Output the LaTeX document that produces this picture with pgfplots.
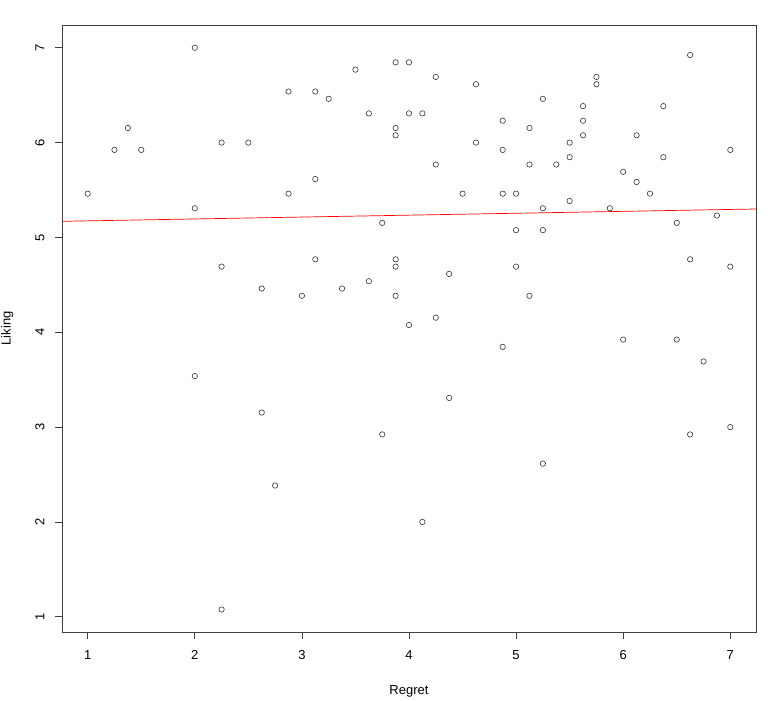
\documentclass[border=0pt]{standalone}
\usepackage{pgfplots}
\pgfplotsset{compat=1.18}
\usepackage{fontspec}
\setmainfont{Liberation Sans}
\usetikzlibrary{calc}
\begin{document}
\begin{tikzpicture}
\begin{axis}[
  scale only axis,
  width=694pt, height=607pt,
  xmin=0.76, xmax=7.24, ymin=0.84, ymax=7.24,
  xtick={1,2,3,4,5,6,7}, ytick={1,2,3,4,5,6,7},
  tick pos=left, tick align=outside,
  major tick length=7pt,
  axis line style={black!75, line width=0.8pt},
  every tick/.style={black!75, line width=0.8pt},
  ticklabel style={font=\fontsize{13}{15}\selectfont},
  /pgf/number format/assume math mode=true,
  xticklabel style={yshift=-8pt},
  yticklabel style={rotate=90, anchor=south, yshift=7pt},
  xlabel={Regret}, ylabel={Liking},
  label style={font=\fontsize{13}{15}\selectfont},
  xlabel style={yshift=-19pt},
  ylabel style={yshift=15pt},
]
\addplot[only marks, mark=o, mark size=2.7pt, black!80, line width=0.6pt] table {
x y
1 5.4615
1.25 5.9231
1.375 6.1538
1.5 5.9231
2 7
2 5.3077
2 3.5385
2.25 6
2.25 4.6923
2.25 1.0769
2.5 6
2.625 4.4615
2.625 3.1538
2.75 2.3846
2.875 6.5385
2.875 5.4615
3 4.3846
3.125 6.5385
3.125 5.6154
3.125 4.7692
3.25 6.4615
3.375 4.4615
3.5 6.7692
3.625 6.3077
3.625 4.5385
3.75 5.1538
3.75 2.9231
3.875 6.8462
3.875 6.1538
3.875 6.0769
3.875 4.7692
3.875 4.6923
3.875 4.3846
4 6.8462
4 6.3077
4 4.0769
4.125 6.3077
4.125 2
4.25 6.6923
4.25 5.7692
4.25 4.1538
4.375 4.6154
4.375 3.3077
4.5 5.4615
4.625 6.6154
4.625 6
4.875 6.2308
4.875 5.9231
4.875 5.4615
4.875 3.8462
5 5.4615
5 5.0769
5 4.6923
5.125 6.1538
5.125 5.7692
5.125 4.3846
5.25 6.4615
5.25 5.3077
5.25 5.0769
5.25 2.6154
5.375 5.7692
5.5 6
5.5 5.8462
5.5 5.3846
5.625 6.3846
5.625 6.2308
5.625 6.0769
5.75 6.6923
5.75 6.6154
5.875 5.3077
6 5.6923
6 3.9231
6.125 6.0769
6.125 5.5846
6.25 5.4615
6.375 6.3846
6.375 5.8462
6.5 5.1538
6.5 3.9231
6.625 6.9231
6.625 4.7692
6.625 2.9231
6.75 3.6923
6.875 5.2308
7 5.9231
7 4.6923
7 3
};
\addplot[red, line width=0.7pt] coordinates {(0.76,5.17) (7.24,5.30)};
\end{axis}
\pgfresetboundingbox
\path ($(current axis.south west)+(-62pt,-69pt)$) rectangle ($(current axis.north east)+(17pt,25pt)$);
\end{tikzpicture}
\end{document}
